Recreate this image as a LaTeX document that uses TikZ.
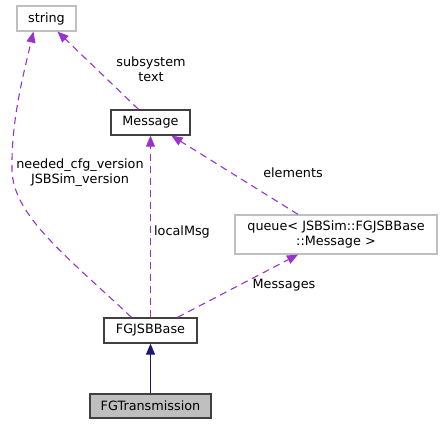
\documentclass[tikz,border=0pt]{standalone}
\usepackage{fontspec}
\setmainfont{DejaVu Sans}
\usetikzlibrary{arrows.meta,calc}
\definecolor{usecol}{HTML}{9A32CD}
\definecolor{inhcol}{HTML}{191970}
\definecolor{graybd}{HTML}{BFBFBF}
\definecolor{boxbd}{HTML}{404040}
\begin{document}
\begin{tikzpicture}[x=1pt,y=-1pt,
  every node/.style={font=\fontsize{12.8}{15}\selectfont, inner sep=0pt},
  cls/.style={draw=boxbd, line width=1.3pt, fill=white, minimum height=25pt},
  ext/.style={draw=graybd, line width=1.2pt, fill=white, minimum height=25pt},
  uses/.style={draw=usecol, line width=1.1pt, dash pattern=on 7pt off 5pt, -{Triangle[length=11pt,width=9pt,fill=usecol,sep=0pt]}},
  inh/.style={draw=inhcol, line width=1.1pt, -{Triangle[length=11pt,width=9pt,fill=inhcol]}},
  lbl/.style={align=center}]
\useasboundingbox (0,0) rectangle (442,425);
\node[ext, minimum width=59pt] (str) at (46.5,18.5) {string};
\node[cls, minimum width=79pt] (msg) at (150.5,122.5) {Message};
\node[ext, minimum width=202pt, minimum height=39pt, align=center] (que) at (336,234.5) {queue< JSBSim::FGJSBBase\\::Message >};
\node[cls, minimum width=93pt] (base) at (150.5,330.5) {FGJSBBase};
\node[cls, fill=graybd, minimum width=121pt, minimum height=24pt] (tr) at (150.5,406) {FGTransmission};

\draw[inh] (tr.north) -- (base.south);
\draw[uses] (base.north) -- (msg.south);
\draw[uses] ([xshift=-19pt]base.north) .. controls (65,255) and (13,215) .. (12,170)
  .. controls (11,120) and (24,72) .. ([xshift=-13pt]str.south);
\draw[uses] ([xshift=-12pt]msg.north) -- ([xshift=11pt]str.south);
\draw[uses] ([xshift=-38pt]que.north) -- ([xshift=21pt]msg.south);
\draw[uses] ([xshift=27pt]base.north) -- ([xshift=-38pt]que.south);

\node[lbl] (l1) at (151,69) {subsystem\\text};
\node[lbl] (l2) at (80,173) {needed\_cfg\_version\\JSBSim\_version};
\node[lbl] (l3) at (182,232) {localMsg};
\node[lbl] (l4) at (293,173) {elements};
\node[lbl] (l5) at (284,285) {Messages};
\end{tikzpicture}
\end{document}
